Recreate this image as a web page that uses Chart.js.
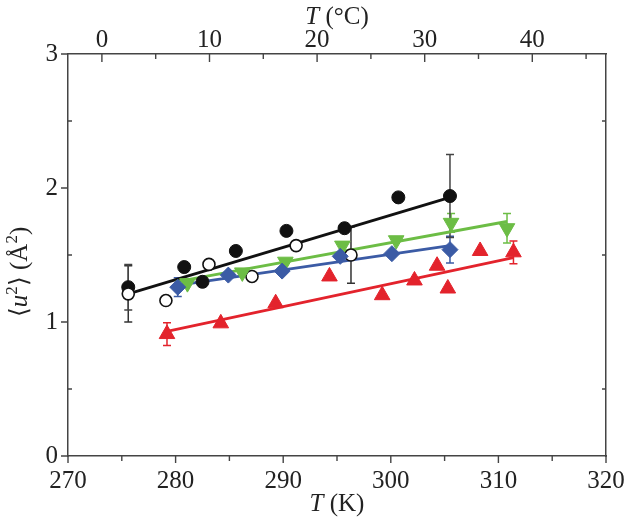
<!DOCTYPE html>
<html>
<head>
<meta charset="utf-8">
<script src="https://cdn.jsdelivr.net/npm/chart.js@4.4.0/dist/chart.umd.min.js"></script>
<style>
  html, body { margin: 0; padding: 0; background: #fff; }
  #wrap { width: 625px; height: 518px; }
</style>
</head>
<body>
<div id="wrap"><canvas id="myChart"></canvas></div>
<script>
/* tick values of the four frame sides */
var kelvinTicks = [270, 275, 280, 285, 290, 295, 300, 305, 310, 315, 320];
var celsiusTicks = [0, 5, 10, 15, 20, 25, 30, 35, 40, 45];
var u2Ticks = [0, 0.5, 1, 1.5, 2, 2.5, 3];

/* black filled circles */
var blackT = [275.6, 280.8, 282.5, 285.6, 290.3, 295.7, 300.7, 305.5];
var blackU = [1.26, 1.41, 1.30, 1.53, 1.68, 1.70, 1.93, 1.94];
var blackErr = [0.17, 0, 0, 0, 0, 0, 0, 0.31];

/* open circles */
var openT = [275.6, 279.1, 283.1, 287.1, 291.2, 296.3];
var openU = [1.21, 1.16, 1.43, 1.34, 1.57, 1.50];
var openErr = [0.21, 0, 0, 0, 0, 0.21];

/* green down triangles */
var greenT = [281.1, 286.2, 290.2, 295.5, 300.5, 305.6, 310.8];
var greenU = [1.29, 1.37, 1.45, 1.57, 1.61, 1.74, 1.70];
var greenErr = [0, 0, 0, 0, 0, 0.07, 0.11];

/* blue diamonds */
var blueT = [280.2, 284.9, 289.9, 295.3, 300.1, 305.5];
var blueU = [1.26, 1.35, 1.38, 1.49, 1.51, 1.54];
var blueErr = [0.07, 0, 0, 0, 0, 0.10];

/* red up triangles */
var redT = [279.2, 284.2, 289.3, 294.3, 299.2, 302.2, 304.3, 305.3, 308.3, 311.4];
var redU = [0.91, 0.99, 1.14, 1.34, 1.20, 1.31, 1.42, 1.25, 1.53, 1.52];
var redErr = [0.085, 0, 0, 0, 0, 0, 0, 0, 0, 0.085];

/* linear fits: end points */
var blackFitT = [275.6, 305.5], blackFitU = [1.21, 1.93];
var greenFitT = [280.0, 310.8], greenFitU = [1.30, 1.75];
var blueFitT = [279.8, 305.5], blueFitU = [1.27, 1.57];
var redFitT = [279.2, 311.4], redFitU = [0.93, 1.48];

var axisColor = '#444';
var serif = "'Times New Roman', 'Liberation Serif', Times, serif";
var KELVIN_OFFSET = 273.15;

function points(xs, ys) {
  return xs.map(function(x, i) { return { x: x, y: ys[i] }; });
}

function fitLine(xs, ys, color, order) {
  return {
    type: 'line', data: points(xs, ys), borderColor: color, borderWidth: 2.8,
    pointRadius: 0, fill: false, order: order
  };
}

/* error bars, drawn below the markers */
var errorBars = {
  id: 'errorBars',
  beforeDatasetsDraw: function(chart) {
    var ctx = chart.ctx, sx = chart.scales.x, sy = chart.scales.y;
    chart.data.datasets.forEach(function(ds) {
      if (!ds.errors) return;
      ctx.save();
      ctx.strokeStyle = ds.errorColor;
      ctx.lineWidth = 1.5;
      ctx.beginPath();
      ds.data.forEach(function(p, i) {
        var e = ds.errors[i];
        if (!e) return;
        var px = sx.getPixelForValue(p.x);
        var top = sy.getPixelForValue(p.y + e), bot = sy.getPixelForValue(p.y - e);
        ctx.moveTo(px, top); ctx.lineTo(px, bot);
        ctx.moveTo(px - 4, top); ctx.lineTo(px + 4, top);
        ctx.moveTo(px - 4, bot); ctx.lineTo(px + 4, bot);
      });
      ctx.stroke();
      ctx.restore();
    });
  }
};

/* tick marks of the frame: bottom outward, top and right inward,
   left major outward and minor inward */
var frameTicks = {
  id: 'frameTicks',
  afterDraw: function(chart) {
    var ctx = chart.ctx, a = chart.chartArea;
    var sx = chart.scales.x, sx2 = chart.scales.x2, sy = chart.scales.y;
    ctx.save();
    ctx.strokeStyle = axisColor;
    ctx.lineWidth = 1.4;
    ctx.beginPath();
    kelvinTicks.forEach(function(t) {
      var px = sx.getPixelForValue(t);
      ctx.moveTo(px, a.bottom); ctx.lineTo(px, a.bottom + (t % 10 === 0 ? 7 : 5));
    });
    celsiusTicks.forEach(function(t) {
      var px = sx2.getPixelForValue(t);
      ctx.moveTo(px, a.top); ctx.lineTo(px, a.top + (t % 10 === 0 ? 8 : 5));
    });
    u2Ticks.forEach(function(v) {
      var py = sy.getPixelForValue(v);
      if (v % 1 === 0) {
        ctx.moveTo(a.left, py); ctx.lineTo(a.left - 7, py);
      } else {
        ctx.moveTo(a.left, py); ctx.lineTo(a.left + 4, py);
        ctx.moveTo(a.right, py); ctx.lineTo(a.right - 4, py);
      }
    });
    ctx.stroke();
    ctx.restore();
  }
};

/* axis titles with italic symbols */
function drawPieces(ctx, pieces, cx, cy) {
  var total = 0;
  pieces.forEach(function(p) { ctx.font = p.font; total += ctx.measureText(p.text).width; });
  var x = cx - total / 2;
  pieces.forEach(function(p) {
    ctx.font = p.font;
    ctx.fillText(p.text, x, cy + (p.dy || 0));
    x += ctx.measureText(p.text).width;
  });
}

var axisTitles = {
  id: 'axisTitles',
  afterDraw: function(chart) {
    var ctx = chart.ctx, a = chart.chartArea;
    var cx = (a.left + a.right) / 2;
    var it = 'italic 25px ' + serif, rm = '25px ' + serif, sup = '17px ' + serif;
    ctx.save();
    ctx.fillStyle = '#222';
    ctx.textAlign = 'left';
    ctx.textBaseline = 'alphabetic';
    drawPieces(ctx, [{ text: 'T', font: it }, { text: ' (K)', font: rm }], cx, 511);
    drawPieces(ctx, [{ text: 'T', font: it }, { text: ' (°C)', font: rm }], cx, 24);
    ctx.translate(27, 272);
    ctx.rotate(-Math.PI / 2);
    drawPieces(ctx, [
      { text: '⟨', font: rm },
      { text: 'u', font: it },
      { text: '2', font: sup, dy: -10 },
      { text: '⟩ (Å', font: rm },
      { text: '2', font: sup, dy: -10 },
      { text: ')', font: rm }
    ], 0, 0);
    ctx.restore();
  }
};

var tickFont = { family: serif, size: 25, lineHeight: 1 };

/* keep the frame exactly where it is in the picture */
function noPad(s) {
  s.paddingLeft = 0; s.paddingRight = 0; s.paddingTop = 0; s.paddingBottom = 0;
}

const ctx = document.getElementById('myChart');
const myChart = new Chart(ctx, {
  type: 'scatter',
  data: {
    datasets: [
      { label: 'blue', data: points(blueT, blueU), errors: blueErr, errorColor: '#3b5ba5',
        pointStyle: 'rectRot', pointRadius: 8, backgroundColor: '#3b5ba5', borderColor: '#3b5ba5',
        borderWidth: 1, order: 1 },
      { label: 'green', data: points(greenT, greenU), errors: greenErr, errorColor: '#6cbd45',
        pointStyle: 'triangle', rotation: 180, pointRadius: 9, backgroundColor: '#6cbd45',
        borderColor: '#6cbd45', borderWidth: 1, order: 2 },
      { label: 'red', data: points(redT, redU), errors: redErr, errorColor: '#e3232c',
        pointStyle: 'triangle', pointRadius: 9, backgroundColor: '#e3232c', borderColor: '#e3232c',
        borderWidth: 1, order: 3 },
      { label: 'open', data: points(openT, openU), errors: openErr, errorColor: '#333',
        pointStyle: 'circle', pointRadius: 6, backgroundColor: '#fff', borderColor: '#111',
        borderWidth: 1.6, order: 4 },
      { label: 'black', data: points(blackT, blackU), errors: blackErr, errorColor: '#444',
        pointStyle: 'circle', pointRadius: 6.5, backgroundColor: '#111', borderColor: '#111',
        borderWidth: 1, order: 5 },
      fitLine(blueFitT, blueFitU, '#3b5ba5', 6),
      fitLine(greenFitT, greenFitU, '#6cbd45', 7),
      fitLine(redFitT, redFitU, '#e3232c', 8),
      fitLine(blackFitT, blackFitU, '#111', 9)
    ]
  },
  options: {
    responsive: true,
    maintainAspectRatio: false,
    animation: false,
    layout: { padding: 0 },
    plugins: {
      legend: { display: false },
      tooltip: { enabled: false }
    },
    scales: {
      x: {
        type: 'linear', position: 'bottom', min: 270, max: 320,
        afterBuildTicks: function(s) { s.ticks = kelvinTicks.map(function(v) { return { value: v }; }); },
        afterFit: function(s) { s.height = 62; noPad(s); },
        ticks: {
          autoSkip: false, maxRotation: 0, padding: 13, color: '#222', font: tickFont,
          callback: function(v) { return v % 10 === 0 ? v : ''; }
        },
        grid: { display: true, drawOnChartArea: false, drawTicks: false },
        border: { display: true, color: axisColor, width: 1.5 }
      },
      x2: {
        type: 'linear', position: 'top', min: 270 - KELVIN_OFFSET, max: 320 - KELVIN_OFFSET,
        afterBuildTicks: function(s) { s.ticks = celsiusTicks.map(function(v) { return { value: v }; }); },
        afterFit: function(s) { s.height = 54; noPad(s); },
        ticks: {
          autoSkip: false, maxRotation: 0, padding: 1, color: '#222', font: tickFont,
          callback: function(v) { return v % 10 === 0 ? v : ''; }
        },
        grid: { display: true, drawOnChartArea: false, drawTicks: false },
        border: { display: true, color: axisColor, width: 1.5 }
      },
      y: {
        type: 'linear', position: 'left', min: 0, max: 3,
        afterBuildTicks: function(s) { s.ticks = u2Ticks.map(function(v) { return { value: v }; }); },
        afterFit: function(s) { s.width = 68; noPad(s); },
        ticks: {
          autoSkip: false, padding: 10, color: '#222', font: tickFont,
          callback: function(v) { return v % 1 === 0 ? v : ''; }
        },
        grid: { display: true, drawOnChartArea: false, drawTicks: false },
        border: { display: true, color: axisColor, width: 1.5 }
      },
      y2: {
        type: 'linear', position: 'right', min: 0, max: 3,
        afterFit: function(s) { s.width = 19; noPad(s); },
        ticks: { display: false },
        grid: { display: true, drawOnChartArea: false, drawTicks: false },
        border: { display: true, color: axisColor, width: 1.5 }
      }
    }
  },
  plugins: [errorBars, frameTicks, axisTitles]
});
</script>
</body>
</html>
